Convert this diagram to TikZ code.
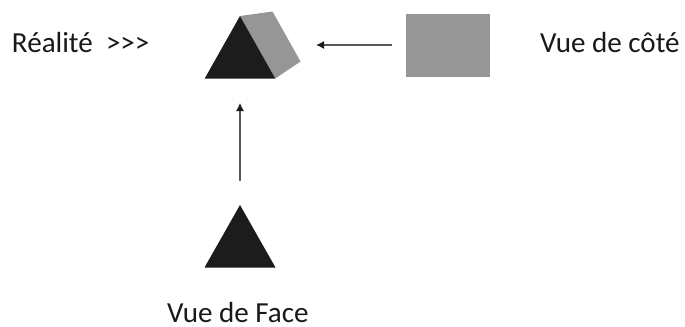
\documentclass[tikz,border=0pt]{standalone}
\usepackage{fontspec}
\setmainfont{Carlito}[Ligatures=NoCommon]
\usetikzlibrary{arrows.meta}
\definecolor{darkface}{rgb}{0.11,0.11,0.11}
\definecolor{greyface}{rgb}{0.59,0.59,0.59}
\definecolor{arrowgrey}{rgb}{0.35,0.35,0.35}
\tikzset{every picture/.style={line width=0.75pt}}
\tikzset{
  viewarrow/.style={draw=arrowgrey,line width=0.9pt,-{Latex[length=6pt,width=6pt,color=darkface]}},
  caption/.style={font=\fontsize{21.8pt}{26pt}\selectfont,inner sep=0pt,anchor=base west,text=black!90}
}

\begin{document}
\begin{tikzpicture}[x=0.75pt,y=0.75pt,yscale=-1,xscale=1]
\useasboundingbox (0,0) rectangle (685,326);

%Shape: Prism side
\fill [greyface]  (240,16) -- (272.5,11.5) -- (300.5,61.5) -- (275.3,78.5) -- cycle ;
%Shape: Triangle
\fill [darkface]  (240,16) -- (204.7,78.5) -- (275.3,78.5) -- cycle ;
%Shape: Rectangle
\fill [greyface]  (406,13.5) rectangle (489.5,76.5) ;
%Shape: Triangle
\fill [darkface]  (240,205) -- (204.5,267.5) -- (275.5,267.5) -- cycle ;

\coordinate (sidestart) at (391.5,45) ;
\coordinate (sideend) at (316,45) ;
\coordinate (facestart) at (240,180.5) ;
\coordinate (faceend) at (240,103) ;

%Straight Lines
\draw [viewarrow]    (sidestart) -- (sideend) ;
%Straight Lines
\draw [viewarrow]    (facestart) -- (faceend) ;

% Text Node
\node [caption] (reality) at (11.5,52) {Réalité\ \ {>}{>}{>}};
% Text Node
\node [caption] (sideview) at (539.5,52.5) {Vue de côté};
% Text Node
\node [caption] (faceview) at (166.5,322) {Vue de Face};

\end{tikzpicture}
\end{document}
